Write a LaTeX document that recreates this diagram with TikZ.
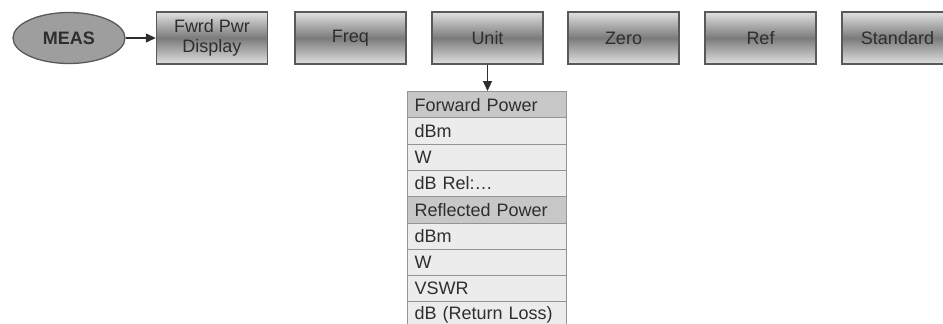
\documentclass[tikz,border=0pt]{standalone}
\usepackage{fontspec}
\setmainfont{Liberation Sans}
\usetikzlibrary{arrows.meta,shapes.geometric}
\definecolor{txt}{gray}{0.18}
\definecolor{edge}{gray}{0.35}
\definecolor{rowedge}{gray}{0.58}
\definecolor{hdrfill}{gray}{0.78}
\definecolor{rowfill}{gray}{0.925}
\tikzset{
  menubox/.style={draw=edge, line width=1.3pt, top color=black!12, bottom color=black!12, middle color=black!52,
    minimum width=111pt, minimum height=52pt, inner sep=0pt, align=center, text=txt,
    font=\fontsize{18}{20}\selectfont},
  measnode/.style={ellipse, draw=edge, line width=1.3pt, fill=black!38, minimum width=112pt, minimum height=51pt,
    inner sep=0pt, text=txt, font=\fontsize{18}{20}\selectfont\bfseries},
  listrow/.style={draw=rowedge, line width=1pt, fill=rowfill, anchor=north west, minimum height=26.3pt,
    inner ysep=0pt, inner xsep=7pt, text width=145pt, align=left, text=txt, font=\fontsize{18}{20}\selectfont},
  listhdr/.style={listrow, fill=hdrfill},
  conn/.style={draw=txt, line width=1.1pt, -{Triangle[length=10pt,width=9pt]}}
}
\begin{document}
\begin{tikzpicture}[x=1pt,y=-1pt]
\useasboundingbox (0,0) rectangle (943,324);
\clip (0,0) rectangle (943,324);
\node[measnode] (meas) at (69,38) {MEAS};
\node[menubox] (fwrd) at (212,38) {Fwrd Pwr\\Display};
\node[menubox] (freq) at (350.5,38) {Freq};
\node[menubox] (unit) at (487.5,38) {Unit};
\node[menubox] (zero) at (623.5,38) {Zero};
\node[menubox] (ref) at (760.5,38) {Ref};
\node[menubox] (std) at (897.5,38) {Standard};
\node[listhdr] (r1) at (407,91) {Forward Power};
\node[listrow] (r2) at (407,117.3) {dBm};
\node[listrow] (r3) at (407,143.6) {W};
\node[listrow] (r4) at (407,169.9) {dB Rel:\dots};
\node[listhdr] (r5) at (407,196.2) {Reflected Power};
\node[listrow] (r6) at (407,222.5) {dBm};
\node[listrow] (r7) at (407,248.8) {W};
\node[listrow] (r8) at (407,275.1) {VSWR};
\node[listrow] (r9) at (407,301.4) {dB (Return Loss)};
\draw[conn] (meas.east) -- (fwrd.west);
\draw[conn] (unit.south) -- (unit.south |- r1.north);
\end{tikzpicture}
\end{document}
